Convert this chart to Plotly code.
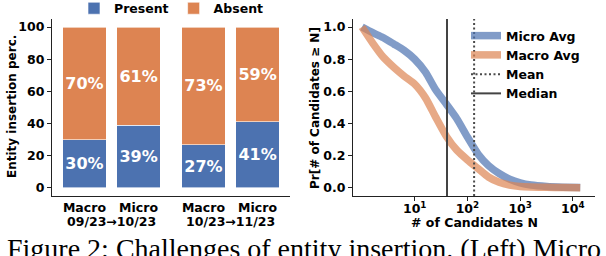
import plotly.graph_objects as go

# ---------------- data ----------------
bar_labels = ["Macro", "Micro", "Macro", "Micro"]
periods = ["09/23\u219210/23", "10/23\u219211/23"]
present = [30, 39, 27, 41]
absent = [70, 61, 73, 59]

# candidates N and CCDF values
cand_n = [1, 1.6, 2.5, 4, 6.3, 10, 16, 25, 40, 63, 100, 160, 250, 400, 630,
          1000, 1600, 3200, 6300, 13800]
micro_avg = [1.0, 0.965, 0.935, 0.895, 0.855, 0.80, 0.72, 0.61, 0.52, 0.43,
             0.317, 0.21, 0.14, 0.09, 0.055, 0.032, 0.018, 0.009, 0.005, 0.003]
macro_avg = [1.0, 0.90, 0.815, 0.75, 0.695, 0.645, 0.56, 0.44, 0.32, 0.235,
             0.175, 0.12, 0.068, 0.035, 0.018, 0.009, 0.006, 0.004, 0.003, 0.002]
mean_n = 134
median_n = 41

y_ticks_left = [0, 20, 40, 60, 80, 100]
y_ticks_right = [0.0, 0.2, 0.4, 0.6, 0.8, 1.0]
x_ticks_right = [10, 100, 1000, 10000]
x_ticktext_right = ["10<sup>1</sup>", "10<sup>2</sup>", "10<sup>3</sup>", "10<sup>4</sup>"]

caption = "Figure 2: Challenges of entity insertion. (Left) Micro"

# ---------------- layout helpers ----------------
W, H = 606, 256
def px(x):
    return x / W
def py(y):
    return 1 - y / H

BLUE = "#4c72b0"
ORANGE = "#dd8452"
FONT = "DejaVu Sans"

# bar positions: two groups with extra gap between groups
bar_x = [0, 1, 2.2, 3.2]
group_centers = [0.5, 2.7]

fig = go.Figure()

for vals, name, color in [(present, "Present", BLUE), (absent, "Absent", ORANGE)]:
    fig.add_trace(go.Bar(
        x=bar_x, y=vals, name=name, marker_color=color,
        marker_line=dict(color="rgba(255,255,255,0.6)", width=1),
        width=0.8, text=[f"{v}%" for v in vals], textposition="inside",
        insidetextanchor="middle", constraintext="none", textangle=0,
        textfont=dict(color="white", size=16, family=FONT, weight="bold"),
        xaxis="x", yaxis="y", legend="legend",
    ))

fig.add_trace(go.Scatter(
    x=cand_n, y=micro_avg, mode="lines", name="Micro Avg",
    line=dict(color="rgba(76,114,176,0.7)", width=7.5, shape="spline", smoothing=0.6),
    xaxis="x2", yaxis="y2", legend="legend2",
))
fig.add_trace(go.Scatter(
    x=cand_n, y=macro_avg, mode="lines", name="Macro Avg",
    line=dict(color="rgba(221,132,82,0.7)", width=7.5, shape="spline", smoothing=0.6),
    xaxis="x2", yaxis="y2", legend="legend2",
))

fig.add_shape(type="line", xref="x2", yref="y2 domain",
              x0=mean_n, x1=mean_n, y0=0, y1=1,
              line=dict(color="#4a4a4a", width=2, dash="2px,2.5px"),
              name="Mean", showlegend=True, legend="legend2")
fig.add_shape(type="line", xref="x2", yref="y2 domain",
              x0=median_n, x1=median_n, y0=0, y1=1,
              line=dict(color="#444444", width=2),
              name="Median", showlegend=True, legend="legend2")

axis_common = dict(showline=True, linecolor="#222222", linewidth=1.2,
                   showgrid=False, zeroline=False, mirror=False, automargin=False,
                   tickfont=dict(family=FONT, size=12.5, color="black", weight="bold"),
                   ticks="outside", ticklen=4, tickwidth=1.2, tickcolor="#222222")

fig.update_layout(
    width=W, height=H,
    margin=dict(l=0, r=0, t=0, b=0, autoexpand=False),
    paper_bgcolor="white", plot_bgcolor="white",
    font=dict(family=FONT, size=12.5, color="black", weight="bold"),
    barmode="stack",
    xaxis=dict(axis_common, domain=[px(52), px(290)], range=[-0.6, 3.8],
               tickvals=bar_x, ticktext=bar_labels, ticks="", anchor="y"),
    yaxis=dict(axis_common, domain=[py(196), py(19)], range=[-5, 105],
               tickvals=y_ticks_left, anchor="x"),
    xaxis2=dict(axis_common, domain=[px(353), px(595)], type="log",
                range=[-0.17, 4.42], tickvals=x_ticks_right,
                ticktext=x_ticktext_right, anchor="y2", ticklabelstandoff=-3),
    yaxis2=dict(axis_common, domain=[py(196), py(19)], range=[-0.05, 1.05],
                tickvals=y_ticks_right, tickformat=".1f", anchor="x2"),
    legend=dict(orientation="h", x=px(74), y=1.025, xanchor="left", yanchor="top",
                font=dict(family=FONT, size=12.5, weight="bold"),
                bgcolor="rgba(0,0,0,0)", traceorder="normal"),
    legend2=dict(orientation="v", x=px(466), y=py(21), xanchor="left", yanchor="top",
                 font=dict(family=FONT, size=12.5, weight="bold"),
                 bgcolor="rgba(0,0,0,0)", tracegroupgap=0),
    showlegend=True,
)

annotations = []
for gc, label in zip(group_centers, periods):
    annotations.append(dict(x=gc, xref="x", y=py(221), yref="paper", text=label,
                            showarrow=False, xanchor="center", yanchor="middle",
                            font=dict(family=FONT, size=12.5, weight="bold")))
annotations.append(dict(x=px(12), y=py(107), xref="paper", yref="paper",
                        text="Entity insertion perc.", textangle=-90, showarrow=False,
                        xanchor="center", yanchor="middle",
                        font=dict(family=FONT, size=12, weight="bold")))
annotations.append(dict(x=px(315), y=py(108), xref="paper", yref="paper",
                        text="Pr[# of Candidates \u2265 N]", textangle=-90, showarrow=False,
                        xanchor="center", yanchor="middle",
                        font=dict(family=FONT, size=12, weight="bold")))
annotations.append(dict(x=px(474), y=py(222), xref="paper", yref="paper",
                        text="# of Candidates N", showarrow=False,
                        xanchor="center", yanchor="middle",
                        font=dict(family=FONT, size=12.5, weight="bold")))
annotations.append(dict(x=px(5), y=py(231), xref="paper", yref="paper",
                        text=caption, showarrow=False, xanchor="left", yanchor="top",
                        font=dict(family="Liberation Serif", size=28, color="black",
                                  weight="normal")))
fig.update_layout(annotations=annotations)

fig.write_html("out.html", config={"displayModeBar": False},
               post_script="document.body.style.margin='0';document.body.style.overflow='hidden';")
